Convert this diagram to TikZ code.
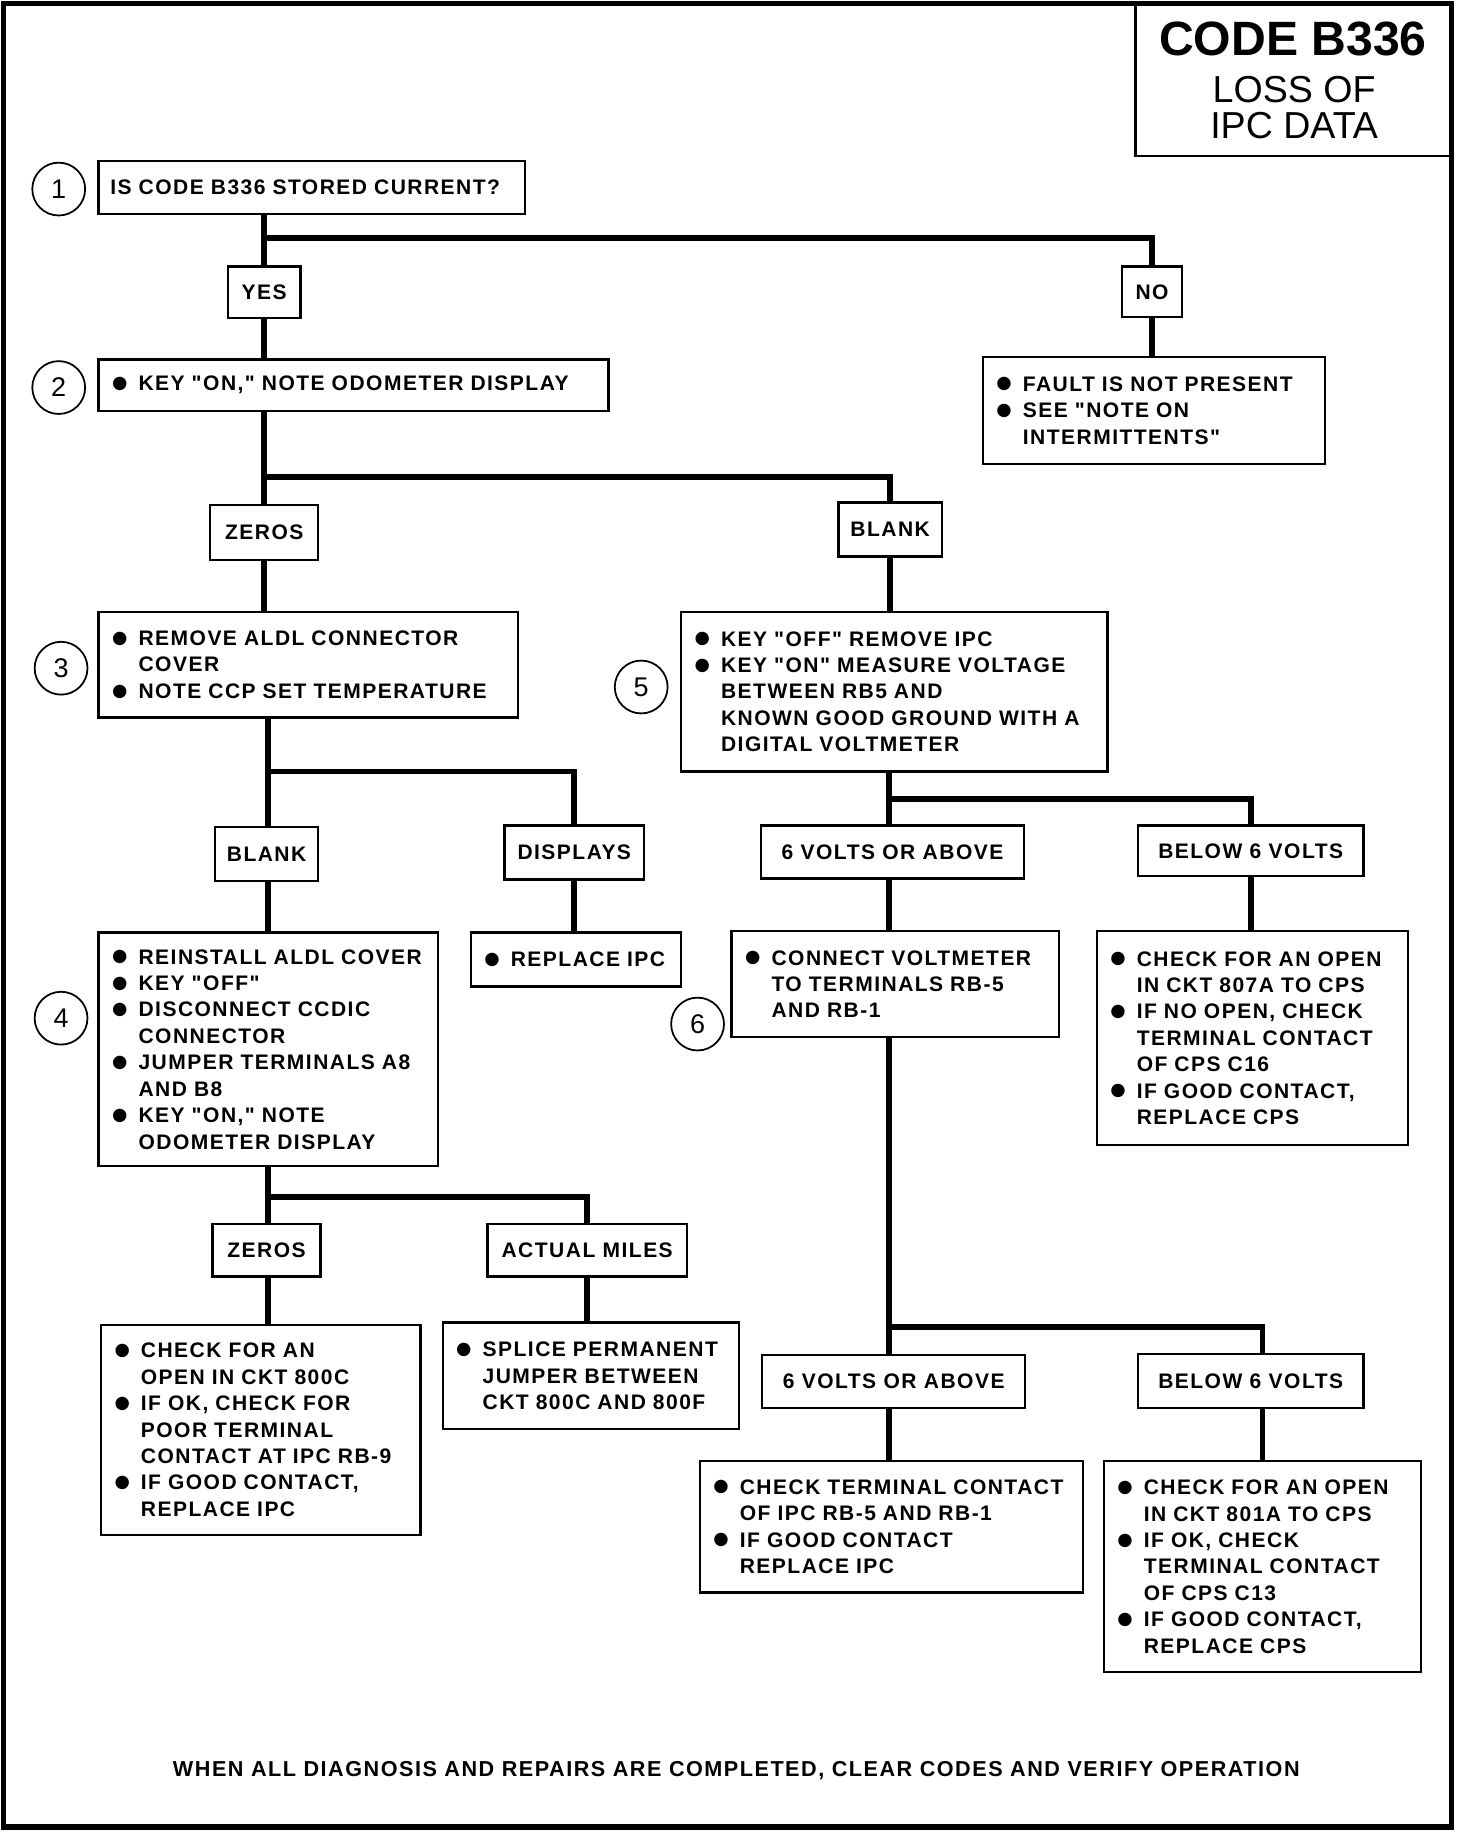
\documentclass[tikz,border=0pt]{standalone}
\usepackage{fontspec}
\setmainfont{Liberation Sans}
\newfontfamily\boxfont{Liberation Sans}[LetterSpace=7]
\newfontfamily\symfont{DejaVu Sans}
\newcommand\boxtext{\boxfont\bfseries\fontsize{17.9}{22.5}\selectfont}
\newcommand\foottext{\boxfont\bfseries\fontsize{18.4}{22.5}\selectfont}
\newcommand\numtext{\fontsize{23}{23}\selectfont}
\newcommand\bul{\makebox[22pt][l]{\hspace{-0.5pt}\raisebox{2pt}{\symfont\fontsize{15}{15}\selectfont ●}}}
\newcommand\bl[1]{\mbox{\bul#1}}
\newcommand\cl[1]{\mbox{\hspace*{22pt}#1}}
\tikzset{
  tbox/.style={draw, line width=2pt, anchor=north west, align=left, inner xsep=12pt, inner ysep=0pt, font=\boxtext},
  lbl/.style={draw, line width=2pt, inner sep=0pt, font=\boxtext, minimum height=45pt},
  num/.style={draw, circle, line width=1.5pt, minimum size=45pt, inner sep=0pt, font=\numtext},
  conn/.style={line width=5pt},
}
\begin{document}
\begin{tikzpicture}[x=1pt,y=-1pt]
\useasboundingbox (0,0) rectangle (1240,1560);
\fill[white] (0,0) rectangle (1240,1560);
\draw[line width=5pt] (3,3) rectangle (1236,1556);
% title
\draw[line width=2pt] (967,3) |- (1236,133);
\node[font=\bfseries\fontsize{41}{41}\selectfont, inner sep=0pt] (t1) at (1101,33) {CODE B336};
\node[font=\fontsize{32}{32}\selectfont, inner sep=0pt] (t2) at (1102,76) {LOSS OF};
\node[font=\fontsize{32}{32}\selectfont, inner sep=0pt] (t3) at (1102,107) {IPC DATA};
% numbers
\node[num] (c1) at (50,161) {1};
\node[num] (c2) at (50,330) {2};
\node[num] (c3) at (52,569) {3};
\node[num] (c4) at (52,867) {4};
\node[num] (c5) at (546,585) {5};
\node[num] (c6) at (594,872) {6};
% boxes
\node[tbox, inner xsep=10pt, text width=343pt, minimum height=45pt] (b1) at (83,136) {IS CODE B336 STORED CURRENT?};
\node[tbox, text width=410pt, minimum height=44pt] (b2) at (83,305) {\bl{KEY "ON," NOTE ODOMETER DISPLAY}};
\node[tbox, text width=267pt, minimum height=91pt] (nores) at (836,303) {\bl{FAULT IS NOT PRESENT}\\\bl{SEE "NOTE ON}\\\cl{INTERMITTENTS"}};
\node[tbox, text width=333pt, minimum height=90pt] (b3) at (83,520) {\bl{REMOVE ALDL CONNECTOR}\\\cl{COVER}\\\bl{NOTE CCP SET TEMPERATURE}};
\node[tbox, text width=265pt, minimum height=199pt] (b4) at (83,793) {\bl{REINSTALL ALDL COVER}\\\bl{KEY "OFF"}\\\bl{DISCONNECT CCDIC}\\\cl{CONNECTOR}\\\bl{JUMPER TERMINALS A8}\\\cl{AND B8}\\\bl{KEY "ON," NOTE}\\\cl{ODOMETER DISPLAY}};
\node[tbox, text width=155pt, minimum height=46pt] (repl) at (400,793) {\bl{REPLACE IPC}};
\node[tbox, text width=248pt, minimum height=179pt] (z2res) at (85,1127) {\bl{CHECK FOR AN}\\\cl{OPEN IN CKT 800C}\\\bl{IF OK, CHECK FOR}\\\cl{POOR TERMINAL}\\\cl{CONTACT AT IPC RB-9}\\\bl{IF GOOD CONTACT,}\\\cl{REPLACE IPC}};
\node[tbox, text width=228pt, minimum height=91pt] (amres) at (376,1125) {\bl{SPLICE PERMANENT}\\\cl{JUMPER BETWEEN}\\\cl{CKT 800C AND 800F}};
\node[tbox, text width=339pt, minimum height=136pt] (b5) at (579,520) {\bl{KEY "OFF" REMOVE IPC}\\\bl{KEY "ON" MEASURE VOLTAGE}\\\cl{BETWEEN RB5 AND}\\\cl{KNOWN GOOD GROUND WITH A}\\\cl{DIGITAL VOLTMETER}};
\node[tbox, text width=255pt, minimum height=90pt] (b6) at (622,792) {\bl{CONNECT VOLTMETER}\\\cl{TO TERMINALS RB-5}\\\cl{AND RB-1}};
\node[tbox, text width=241pt, minimum height=182pt] (bel1res) at (933,792) {\bl{CHECK FOR AN OPEN}\\\cl{IN CKT 807A TO CPS}\\\bl{IF NO OPEN, CHECK}\\\cl{TERMINAL CONTACT}\\\cl{OF CPS C16}\\\bl{IF GOOD CONTACT,}\\\cl{REPLACE CPS}};
\node[tbox, text width=302pt, minimum height=112pt] (v2res) at (595,1243) {\bl{CHECK TERMINAL CONTACT}\\\cl{OF IPC RB-5 AND RB-1}\\\bl{IF GOOD CONTACT}\\\cl{REPLACE IPC}};
\node[tbox, text width=246pt, minimum height=180pt] (bel2res) at (939,1243) {\bl{CHECK FOR AN OPEN}\\\cl{IN CKT 801A TO CPS}\\\bl{IF OK, CHECK}\\\cl{TERMINAL CONTACT}\\\cl{OF CPS C13}\\\bl{IF GOOD CONTACT,}\\\cl{REPLACE CPS}};
% labels
\node[lbl, minimum width=62pt, minimum height=44pt] (yes) at (225,249) {YES};
\node[lbl, minimum width=51pt, minimum height=43pt] (no) at (981,248.5) {NO};
\node[lbl, minimum width=92pt, minimum height=47pt] (zeros1) at (225,453.5) {ZEROS};
\node[lbl, minimum width=88pt, minimum height=46pt] (blank1) at (758,451) {BLANK};
\node[lbl, minimum width=88pt, minimum height=46pt] (blank2) at (227,727) {BLANK};
\node[lbl, minimum width=119pt, minimum height=46pt] (displays) at (489,726) {DISPLAYS};
\node[lbl, minimum width=92pt] (zeros2) at (227,1064.5) {ZEROS};
\node[lbl, minimum width=170pt] (miles) at (500,1064.5) {ACTUAL MILES};
\node[lbl, minimum width=224pt] (volts1) at (760,725.5) {6 VOLTS OR ABOVE};
\node[lbl, minimum width=192pt, minimum height=43pt] (below1) at (1065,724.5) {BELOW 6 VOLTS};
\node[lbl, minimum width=224pt] (volts2) at (761,1176.5) {6 VOLTS OR ABOVE};
\node[lbl, minimum width=192pt, minimum height=46pt] (below2) at (1065,1176) {BELOW 6 VOLTS};
% footer
\node[font=\foottext, inner sep=0pt] (foot) at (627,1508) {WHEN ALL DIAGNOSIS AND REPAIRS ARE COMPLETED, CLEAR CODES AND VERIFY OPERATION};
% connectors
\coordinate (j1) at (225,203);
\draw[conn] (b1.south -| j1) -- (j1) -| (no.north);
\draw[conn] (j1) -- (yes.north -| j1);
\draw[conn] (yes.south) -- (b2.north -| yes.south);
\draw[conn] (no.south) -- (nores.north -| no.south);
\coordinate (j2) at (225,406);
\draw[conn] (b2.south -| j2) -- (j2) -| (blank1.north);
\draw[conn] (j2) -- (zeros1.north -| j2);
\draw[conn] (zeros1.south) -- (b3.north -| zeros1.south);
\draw[conn] (blank1.south) -- (b5.north -| blank1.south);
\coordinate (j3) at (228,657);
\draw[conn] (b3.south -| j3) -- (j3) -| (displays.north);
\draw[conn] (j3) -- (blank2.north -| j3);
\draw[conn] (blank2.south -| j3) -- (b4.north -| j3);
\draw[conn] (displays.south) -- (repl.north -| displays.south);
\coordinate (j4) at (228,1019);
\draw[conn] (b4.south -| j4) -- (j4) -| (miles.north);
\draw[conn] (j4) -- (zeros2.north -| j4);
\draw[conn] (zeros2.south -| j4) -- (z2res.north -| j4);
\draw[conn] (miles.south) -- (amres.north -| miles.south);
\coordinate (j5) at (757,680);
\draw[conn] (b5.south -| j5) -- (j5) -| (below1.north);
\draw[conn] (j5) -- (volts1.north -| j5);
\draw[conn] (volts1.south -| j5) -- (b6.north -| j5);
\draw[conn] (below1.south) -- (bel1res.north -| below1.south);
\coordinate (j6) at (757,1130);
\coordinate (x6) at (1075,1130);
\draw[conn] (b6.south -| j6) -- (j6) -| (below2.north -| x6);
\draw[conn] (j6) -- (volts2.north -| j6);
\draw[conn] (volts2.south -| j6) -- (v2res.north -| j6);
\draw[conn] (below2.south -| x6) -- (bel2res.north -| x6);
\end{tikzpicture}
\end{document}
